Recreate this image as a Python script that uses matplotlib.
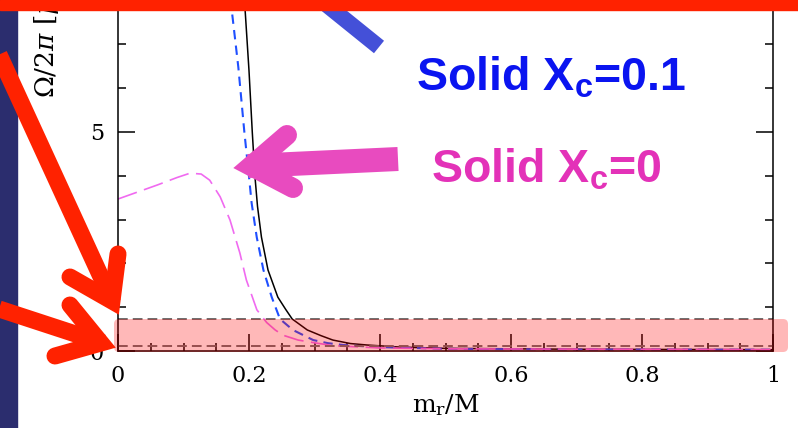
import matplotlib
matplotlib.use("Agg")
import matplotlib.pyplot as plt
from matplotlib.lines import Line2D
from matplotlib.patches import Rectangle, FancyBboxPatch
from matplotlib.transforms import IdentityTransform
from matplotlib.ticker import MultipleLocator

# ---- data ----
x_solid01 = [0.170, 0.194, 0.200, 0.205, 0.209, 0.213, 0.219, 0.229, 0.244, 0.256,
             0.266, 0.289, 0.310, 0.328, 0.355, 0.380, 0.430, 0.500, 0.700, 1.000]
y_solid01 = [12.0, 7.8, 6.4, 5.0, 4.0, 3.3, 2.6, 1.85, 1.23, 0.95,
             0.73, 0.48, 0.35, 0.25, 0.17, 0.137, 0.09, 0.06, 0.04, 0.03]

x_dash01 = [0.160, 0.1736, 0.1837, 0.1929, 0.199, 0.204, 0.2118, 0.222, 0.2347, 0.2473,
            0.267, 0.298, 0.320, 0.344, 0.395, 0.500, 0.700, 1.000]
y_dash01 = [9.5, 7.79, 6.48, 5.0, 4.13, 3.38, 2.6, 1.85, 1.23, 0.73,
            0.48, 0.25, 0.18, 0.137, 0.09, 0.05, 0.035, 0.03]

x_solid0 = [0.0, 0.03, 0.06, 0.09, 0.11, 0.127, 0.14, 0.156, 0.171, 0.186, 0.196,
            0.212, 0.227, 0.240, 0.252, 0.275, 0.303, 0.330, 0.400, 0.500, 1.000]
y_solid0 = [3.47, 3.63, 3.79, 3.96, 4.06, 4.04, 3.9, 3.52, 2.99, 2.24, 1.62,
            0.94, 0.65, 0.48, 0.36, 0.25, 0.18, 0.12, 0.07, 0.05, 0.03]

ref_levels = [0.73, 0.11]

xticks = [0, 0.2, 0.4, 0.6, 0.8, 1]
xtick_labels = ["0", "0.2", "0.4", "0.6", "0.8", "1"]
yticks = [0, 5, 10, 15]
ytick_labels = ["0", "5", "10", "15"]

label_01 = r"Solid X$_\mathbf{c}$=0.1"
label_0 = r"Solid X$_\mathbf{c}$=0"

# ---- figure ----
W, H = 798, 428
plt.rcParams["font.family"] = ["DejaVu Serif"]
plt.rcParams["mathtext.fontset"] = "custom"
plt.rcParams["mathtext.bf"] = "Liberation Sans:bold"
plt.rcParams["mathtext.rm"] = "Liberation Sans:bold"

fig = plt.figure(figsize=(W / 100, H / 100), dpi=100)
fig.patch.set_facecolor("white")
ax = fig.add_axes([118 / W, 77 / H, 655 / W, 15 * 43.8 / H])

ax.plot(x_solid01, y_solid01, color="black", lw=1.1)
ax.plot(x_dash01, y_dash01, color="#1f4fff", lw=1.5, dashes=(4.5, 3))
ax.plot(x_solid0, y_solid0, color="#f06af0", lw=1.2, dashes=(12, 4.5))
for lev in ref_levels:
    ax.axhline(lev, color="#6e6e6e", lw=1.4, dashes=(5, 2.6))

ax.set_xlim(0, 1)
ax.set_ylim(0, 15)
ax.set_xticks(xticks)
ax.set_xticklabels(xtick_labels)
ax.set_yticks(yticks)
ax.set_yticklabels(ytick_labels)
ax.xaxis.set_minor_locator(MultipleLocator(0.05))
ax.yaxis.set_minor_locator(MultipleLocator(1))
ax.tick_params(which="both", direction="in", top=True, right=True, width=1.1,
               labelsize=16, pad=10)
ax.tick_params(which="major", length=12)
ax.tick_params(which="minor", length=6)
for s in ax.spines.values():
    s.set_linewidth(1.1)

ax.set_xlabel(r"$\mathrm{m_r/M}$", fontsize=18, math_fontfamily="dejavuserif", labelpad=4)
ax.set_ylabel(r"$\Omega/2\pi$ [$\mu$Hz]", fontsize=19, math_fontfamily="dejavuserif")
ax.yaxis.set_label_coords(-0.087, 0.497)


# ---- slide overlays (pixel positions, top-left origin) ----
def P(x, y):
    return x / W, 1 - y / H


def stroke(pts, color, wpx, cap="round", join="miter", z=10):
    xs = [P(*p)[0] for p in pts]
    ys = [P(*p)[1] for p in pts]
    fig.add_artist(Line2D(xs, ys, transform=fig.transFigure, color=color,
                          lw=wpx * 0.72, solid_capstyle=cap, solid_joinstyle=join,
                          zorder=z))


fig.add_artist(Rectangle((0, 0), 17 / W, 1, transform=fig.transFigure,
                         color="#2b2d6e", zorder=5))

band = FancyBboxPatch((114 + 5, H - 352 + 5), 674 - 10, 33 - 10,
                      boxstyle="round,pad=5", transform=IdentityTransform(),
                      facecolor=(1, 0, 0, 0.28), edgecolor="none", zorder=8)
fig.add_artist(band)

# blue pointer
stroke([(296, -20), (379, 47)], "#4450d8", 16, cap="butt", z=10)

# magenta arrow
stroke([(398, 159), (248, 166)], "#e84bbf", 24, cap="butt", z=11)
stroke([(287, 135), (251, 166), (293, 188)], "#e84bbf", 20, z=11)

# red arrows
red = "#ff2200"
stroke([(-10, 35), (113, 303)], red, 17, cap="butt", z=12)
stroke([(118, 254), (112, 301), (70, 277)], red, 17, z=12)
stroke([(-10, 306), (103, 343)], red, 17, cap="butt", z=12)
stroke([(70, 305), (101, 343), (55, 356)], red, 17, z=12)

fig.add_artist(Rectangle((0, 1 - 9.5 / H), 1, 9.5 / H, transform=fig.transFigure,
                         color=red, zorder=20))

fig.text(*P(416, 90), label_01, color="#0a14f0", fontsize=33.5, fontweight="bold",
         family="Liberation Sans", math_fontfamily="custom", ha="left", va="baseline",
         zorder=15)
fig.text(*P(431, 182), label_0, color="#e332b8", fontsize=33.5, fontweight="bold",
         family="Liberation Sans", math_fontfamily="custom", ha="left", va="baseline",
         zorder=15)

fig.savefig("out.png", dpi=100)
